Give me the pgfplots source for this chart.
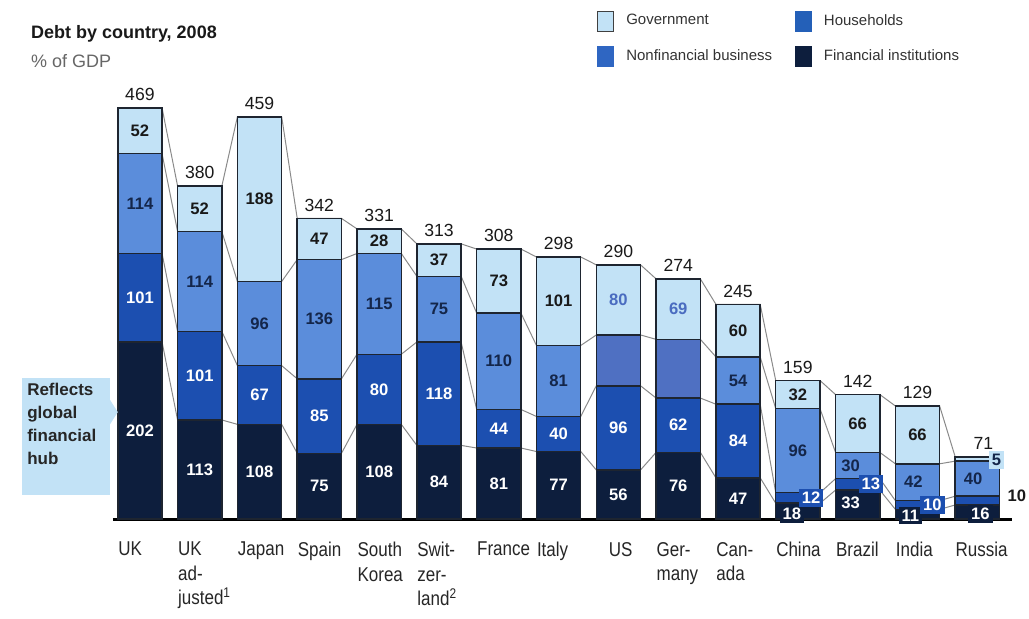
\documentclass[border=0pt]{standalone}
\usepackage{fontspec}
\setmainfont{Liberation Sans}
\newfontfamily\narrowfont{Liberation Sans}[FakeStretch=0.85]
\usepackage{pgfplots}
\pgfplotsset{compat=1.18}
\definecolor{cgov}{HTML}{C2E2F6}
\definecolor{cnfb}{HTML}{5B8DDB}
\definecolor{cnfb2}{HTML}{4F70C2}
\definecolor{chh}{HTML}{1C4FB0}
\definecolor{cfin}{HTML}{0D1E3D}
\definecolor{cedge}{HTML}{1E2530}
\definecolor{cnavytext}{HTML}{14264A}
\definecolor{cbluetext}{HTML}{4A6CC0}
\definecolor{cline}{HTML}{8A8A8A}
\definecolor{clegnfb}{HTML}{2F66C2}
\definecolor{cleghh}{HTML}{2460B8}
\pgfplotsset{
  base/.style={
    at={(56.5pt,49.5pt)}, anchor=south west,
    scale only axis, width=449.5pt, height=205.5pt,
    xmin=-0.45, xmax=14.58, ymin=0, ymax=469,
    clip=false,
  },
  hidden/.style={base, axis lines=none, xtick=\empty, ytick=\empty},
  lab/.style={draw=none, forget plot, nodes near coords, point meta=explicit symbolic,
    every node near coord/.append style={anchor=center, font=\fontsize{8.3}{10}\selectfont\bfseries, inner sep=1.5pt, #1}},
}
\begin{document}
\begin{tikzpicture}
\useasboundingbox (0pt,0pt) rectangle (514.5pt,309pt);
\node[anchor=base west, font=\fontsize{9}{11}\selectfont\bfseries, text=black!90] at (12pt,290pt) {Debt by country, 2008};
\node[anchor=base west, font=\fontsize{9}{11}\selectfont, text=black!60] at (12pt,275.5pt) {\% of GDP};

% connector lines (behind the bars)
\begin{axis}[hidden]
\addplot[cline, line width=0.5pt] coordinates {(-0.37,202)(0.37,202)(0.63,113)(1.37,113)(1.63,108)(2.37,108)(2.63,75)(3.37,75)(3.63,108)(4.37,108)(4.63,84)(5.37,84)(5.63,81)(6.37,81)(6.63,77)(7.37,77)(7.63,56)(8.37,56)(8.63,76)(9.37,76)(9.63,47)(10.37,47)(10.63,18)(11.37,18)(11.63,33)(12.37,33)(12.63,11)(13.37,11)(13.63,16)(14.37,16)};
\addplot[cline, line width=0.5pt] coordinates {(-0.37,303)(0.37,303)(0.63,214)(1.37,214)(1.63,175)(2.37,175)(2.63,160)(3.37,160)(3.63,188)(4.37,188)(4.63,202)(5.37,202)(5.63,125)(6.37,125)(6.63,117)(7.37,117)(7.63,152)(8.37,152)(8.63,138)(9.37,138)(9.63,131)(10.37,131)(10.63,30)(11.37,30)(11.63,46)(12.37,46)(12.63,21)(13.37,21)(13.63,26)(14.37,26)};
\addplot[cline, line width=0.5pt] coordinates {(-0.37,417)(0.37,417)(0.63,328)(1.37,328)(1.63,271)(2.37,271)(2.63,296)(3.37,296)(3.63,303)(4.37,303)(4.63,277)(5.37,277)(5.63,235)(6.37,235)(6.63,198)(7.37,198)(7.63,210)(8.37,210)(8.63,205)(9.37,205)(9.63,185)(10.37,185)(10.63,126)(11.37,126)(11.63,76)(12.37,76)(12.63,63)(13.37,63)(13.63,66)(14.37,66)};
\addplot[cline, line width=0.5pt] coordinates {(-0.37,469)(0.37,469)(0.63,380)(1.37,380)(1.63,459)(2.37,459)(2.63,343)(3.37,343)(3.63,331)(4.37,331)(4.63,314)(5.37,314)(5.63,308)(6.37,308)(6.63,299)(7.37,299)(7.63,290)(8.37,290)(8.63,274)(9.37,274)(9.63,245)(10.37,245)(10.63,158)(11.37,158)(11.63,142)(12.37,142)(12.63,129)(13.37,129)(13.63,71)(14.37,71)};
\end{axis}

% stacked bars
\begin{axis}[base, ybar stacked, bar width=0.74,
  axis y line=none, axis x line*=bottom,
  x axis line style={line width=1.5pt, black},
  ytick=\empty, xtick={0,...,14}, major tick length=0pt,
  xticklabels={UK, {UK\\ad-\\justed\textsuperscript{1}}, Japan, Spain, {South\\Korea}, {Swit-\\zer-\\land\textsuperscript{2}}, France, Italy, {\hspace*{6pt}US}, {Ger-\\many}, {Can-\\ada}, China, Brazil, India, Russia},
  xticklabel style={anchor=north west, align=left, xshift=-11pt, yshift=-8pt, inner xsep=0pt, font=\narrowfont\fontsize{10}{12.25}\selectfont, text=black!85},
]
\addplot[fill=cfin, draw=cedge, line width=0.75pt] coordinates {(0,202)(1,113)(2,108)(3,75)(4,108)(5,84)(6,81)(7,77)(8,56)(9,76)(10,47)(11,18)(12,33)(13,11)(14,16)};
\addplot[fill=chh, draw=cedge, line width=0.75pt] coordinates {(0,101)(1,101)(2,67)(3,85)(4,80)(5,118)(6,44)(7,40)(8,96)(9,62)(10,84)(11,12)(12,13)(13,10)(14,10)};
\addplot[fill=cnfb, draw=cedge, line width=0.75pt] coordinates {(0,114)(1,114)(2,96)(3,136)(4,115)(5,75)(6,110)(7,81)(8,0)(9,0)(10,54)(11,96)(12,30)(13,42)(14,40)};
\addplot[fill=cnfb2, draw=cedge, line width=0.75pt] coordinates {(0,0)(1,0)(2,0)(3,0)(4,0)(5,0)(6,0)(7,0)(8,58)(9,67)(10,0)(11,0)(12,0)(13,0)(14,0)};
\addplot[fill=cgov, draw=cedge, line width=0.75pt] coordinates {(0,52)(1,52)(2,188)(3,47)(4,28)(5,37)(6,73)(7,101)(8,80)(9,69)(10,60)(11,32)(12,66)(13,66)(14,5)};
\end{axis}

% labels, legend, annotation
\begin{axis}[hidden,
  legend columns=2,
  legend cell align=left,
  legend style={at={(0.538,1.238)}, anchor=north west, draw=none, fill=none, inner sep=0pt,
    font=\fontsize{7.5}{9}\selectfont, text=black!80, row sep=7pt,
    nodes={inner sep=0pt},
    /tikz/every odd column/.style={column sep=6pt},
    /tikz/column 2/.style={column sep=11.5pt}},
  legend image code/.code={\draw[#1] (0pt,-5pt) rectangle (8pt,5pt);},
]
\addlegendimage{fill=cgov, draw=black!75, line width=0.6pt}
\addlegendentry{Government}
\addlegendimage{fill=cleghh, draw=cleghh}
\addlegendentry{Households}
\addlegendimage{fill=clegnfb, draw=clegnfb}
\addlegendentry{Nonfinancial business}
\addlegendimage{fill=cfin, draw=cfin}
\addlegendentry{Financial institutions}

% annotation box
\fill[cgov] (axis cs:-1.97,27) rectangle (axis cs:-0.5,161);
\fill[cgov] (axis cs:-0.5,136) -- (axis cs:-0.37,122) -- (axis cs:-0.5,108) -- cycle;
\node[anchor=north west, align=left, inner sep=0pt, font=\fontsize{8.5}{11.5}\selectfont\bfseries, text=black!85] at (axis cs:-1.89,155) {Reflects\\global\\financial\\hub};

% totals
\addplot[draw=none, forget plot, nodes near coords, point meta=explicit symbolic,
  every node near coord/.append style={font=\fontsize{8.8}{10}\selectfont, text=black!90}]
  table[x=x, y=y, meta=lab] {
x y lab
0 469 469
1 380 380
2 459 459
3 343 342
4 331 331
5 314 313
6 308 308
7 299 298
8 290 290
9 274 274
10 245 245
11 158 159
12 142 142
13 129 129
14.1 71 71
};
% white labels (financial, households)
\addplot[lab={text=white}] table[x=x, y=y, meta=lab] {
x y lab
0 101 202
1 56.5 113
2 54 108
3 37.5 75
4 54 108
5 42 84
6 40.5 81
7 38.5 77
8 28 56
9 38 76
10 23.5 47
11.88 18 33
0 252.5 101
1 163.5 101
2 141.5 67
3 117.5 85
4 148 80
5 143 118
6 103 44
7 97 40
8 104 96
9 107 62
10 89 84
};
% navy labels (nonfinancial)
\addplot[lab={text=cnavytext}] table[x=x, y=y, meta=lab] {
x y lab
0 360 114
1 271 114
2 223 96
3 228 136
4 245.5 115
5 239.5 75
6 180 110
7 157.5 81
10 158 54
11 78 96
11.88 61 30
12.93 42 42
13.93 46 40
};
% black labels (government)
\addplot[lab={text=black!90}] table[x=x, y=y, meta=lab] {
x y lab
0 443 52
1 354 52
2 365 188
3 319.5 47
4 317 28
5 295.5 37
6 271.5 73
7 248.5 101
10 215 60
11 142 32
12 109 66
13 96 66
14.66 27 10
};
% blue labels
\addplot[lab={text=cbluetext}] table[x=x, y=y, meta=lab] {
x y lab
8 250 80
9 239.5 69
};
% boxed labels on navy
\addplot[lab={text=white, fill=cfin}] table[x=x, y=y, meta=lab] {
x y lab
10.9 6 18
12.88 4 11
14.05 6 16
};
% boxed labels on households blue
\addplot[lab={text=white, fill=chh}] table[x=x, y=y, meta=lab] {
x y lab
11.22 24 12
12.22 40 13
13.25 16 10
};
% boxed label light
\addplot[lab={text=cnavytext, fill=cgov}] table[x=x, y=y, meta=lab] {
x y lab
14.32 67 5
};
\end{axis}
\end{tikzpicture}
\end{document}
